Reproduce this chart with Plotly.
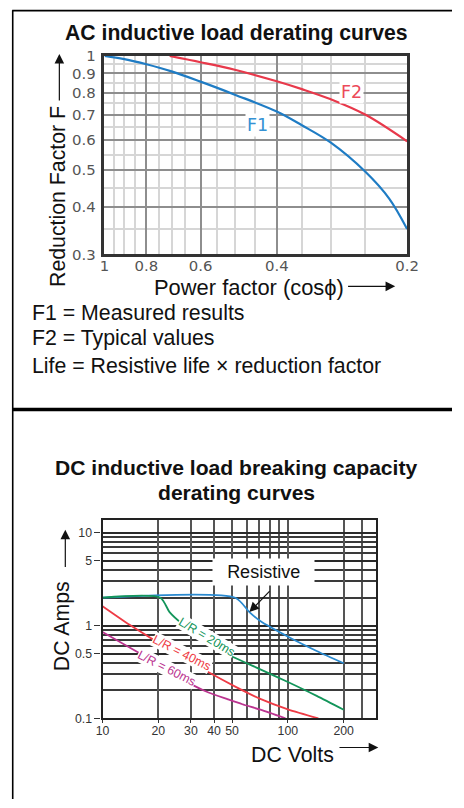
import math
import plotly.graph_objects as go

# Figure size; the page body adds the browser's default 8px margin around it.
W, H = 464, 808
BODY = 8
# Layout positions below are given in screen pixels of the captured page,
# which spans the figure plus its margins.
SX = (W + 2 * BODY) / W
SY = (H + 2 * BODY) / H

# ---- AC inductive load: power factor vs reduction factor ----
f1_pf = [1.0, 0.9, 0.8, 0.7, 0.6, 0.5, 0.4, 0.35, 0.3, 0.25, 0.22, 0.2]
f1_val = [1.0, 0.981, 0.951, 0.911, 0.856, 0.791, 0.714, 0.657, 0.591, 0.496, 0.421, 0.35]
f2_pf = [0.707, 0.6, 0.5, 0.4, 0.35, 0.3, 0.25, 0.2]
f2_val = [1.0, 0.963, 0.92, 0.858, 0.818, 0.769, 0.701, 0.596]

ac_y_ticks = [0.3, 0.4, 0.5, 0.6, 0.7, 0.8, 0.9, 1.0]
ac_y_labels = ["0.3", "0.4", "0.5", "0.6", "0.7", "0.8", "0.9", "1"]
ac_y_minor = [0.35, 0.45, 0.55, 0.65, 0.75, 0.85, 0.95]
ac_x_ticks = [1.0, 0.8, 0.6, 0.4, 0.2]
ac_x_labels = ["1", "0.8", "0.6", "0.4", "0.2"]
ac_x_minor = [0.95, 0.9, 0.85, 0.75, 0.7, 0.65, 0.55, 0.5, 0.45, 0.35, 0.3, 0.25]

# ---- DC inductive load breaking capacity (volts vs amps) ----
res_v = [10, 52, 62, 71, 102, 143, 200]
res_a = [2, 2, 1.40, 1.12, 0.745, 0.533, 0.393]
lr20_v = [10, 20.5, 23, 27, 35, 47, 71, 100, 143, 200]
lr20_a = [2, 2, 1.40, 1.04, 0.72, 0.495, 0.338, 0.247, 0.175, 0.124]
lr40_v = [10, 14, 18.5, 27, 38, 52, 71, 100, 146]
lr40_a = [1.62, 1.02, 0.72, 0.456, 0.308, 0.22, 0.162, 0.125, 0.1]
lr60_v = [10, 15.6, 22, 31.3, 37.3, 47.2, 56.8, 71.1, 97]
lr60_a = [0.853, 0.513, 0.341, 0.224, 0.19, 0.161, 0.142, 0.124, 0.1]

dc_y_ticks = [0.1, 0.5, 1, 5, 10]
dc_y_labels = ["0.1", "0.5", "1", "5", "10"]
dc_y_minor = [0.2, 0.3, 0.4, 0.6, 0.7, 0.8, 0.9, 2, 3, 4, 6, 7, 8, 9]
dc_x_ticks = [10, 20, 30, 40, 50, 100, 200]
dc_x_labels = ["10", "20", "30", "40", "50", "100", "200"]
dc_x_minor = [60, 70, 80, 90, 250]

BLUE = "#1f7cc4"
RED = "#e8394b"
DC_BLUE = "#2a8ad0"
DC_GREEN = "#13955a"
DC_RED = "#ee3b45"
DC_MAGENTA = "#bb3590"

SANS = "Liberation Sans"
LIGHT = "DejaVu Sans"


def px(x):
    """Screen x (pixels) -> paper fraction."""
    return (x * SX - BODY) / W


def py(y):
    """Screen y (pixels from top) -> paper fraction."""
    return 1 - (y * SY - BODY) / H


def fs(size):
    """Screen font size -> figure font size."""
    return round(size * (SX + SY) / 2, 1)


fig = go.Figure()

# AC curves
fig.add_trace(go.Scatter(x=f1_pf, y=f1_val, mode="lines", xaxis="x", yaxis="y",
                         line=dict(color=BLUE, width=2.2, shape="spline", smoothing=1.0)))
fig.add_trace(go.Scatter(x=f2_pf, y=f2_val, mode="lines", xaxis="x", yaxis="y",
                         line=dict(color=RED, width=2.2, shape="spline", smoothing=1.0)))

# DC curves
for xs, ys, col in [(res_v, res_a, DC_BLUE), (lr20_v, lr20_a, DC_GREEN),
                    (lr40_v, lr40_a, DC_RED), (lr60_v, lr60_a, DC_MAGENTA)]:
    fig.add_trace(go.Scatter(x=xs, y=ys, mode="lines", xaxis="x2", yaxis="y2",
                             line=dict(color=col, width=1.8, shape="spline", smoothing=0.7)))

ac_axis_common = dict(type="log", showline=True, mirror=True, linecolor="#333333",
                      linewidth=2.6, zeroline=False, showgrid=True,
                      gridcolor="#8e8e8e", gridwidth=1.7,
                      tickfont=dict(family=LIGHT, size=fs(14.5), color="#555555"))

dc_axis_common = dict(type="log", showline=True, mirror=True, linecolor="#222222",
                      linewidth=2.1, zeroline=False, showgrid=True,
                      tickfont=dict(family=SANS, size=fs(12), color="#333333"))

fig.update_layout(
    width=W, height=H, margin=dict(l=0, r=0, t=0, b=0),
    paper_bgcolor="white", plot_bgcolor="white", showlegend=False,
    xaxis=dict(domain=[px(106), px(411)], anchor="y",
               range=[0, math.log10(0.2)],
               tickmode="array", tickvals=ac_x_ticks, ticktext=ac_x_labels,
               ticks="", ticklabelstandoff=-4,
               minor=dict(tickmode="array", tickvals=ac_x_minor, showgrid=True,
                          gridcolor="#d6d6d6", gridwidth=1.5, ticks=""),
               **ac_axis_common),
    yaxis=dict(domain=[py(254), py(55)], anchor="x",
               range=[math.log10(0.3), 0],
               tickmode="array", tickvals=ac_y_ticks, ticktext=ac_y_labels,
               ticks="outside", ticklen=3, tickcolor="rgba(0,0,0,0)",
               minor=dict(tickmode="array", tickvals=ac_y_minor, showgrid=True,
                          gridcolor="#d6d6d6", gridwidth=1.5, ticks=""),
               **ac_axis_common),
    xaxis2=dict(domain=[px(104), px(380)], anchor="y2",
                range=[1, math.log10(300)],
                tickmode="array", tickvals=dc_x_ticks, ticktext=dc_x_labels,
                ticks="outside", ticklen=3, tickcolor="#333333", tickwidth=1,
                ticklabelstandoff=-3,
                gridcolor="#555555", gridwidth=1.9,
                minor=dict(tickmode="array", tickvals=dc_x_minor, showgrid=True,
                           gridcolor="#555555", gridwidth=1.9, ticks=""),
                **dc_axis_common),
    yaxis2=dict(domain=[py(719.3), py(520.7)], anchor="x2",
                range=[-1, 1.135],
                tickmode="array", tickvals=dc_y_ticks, ticktext=dc_y_labels,
                ticks="outside", ticklen=6, tickcolor="#333333", tickwidth=1,
                gridcolor="#2a2a2a", gridwidth=1.5,
                minor=dict(tickmode="array", tickvals=dc_y_minor, showgrid=True,
                           gridcolor="#3a3a3a", gridwidth=1.5, ticks=""),
                **dc_axis_common),
)

# Frame around the panels
fig.add_shape(type="line", xref="paper", yref="paper", x0=px(13.5), x1=px(13.5),
              y0=py(9), y1=0, line=dict(color="black", width=1.6))
fig.add_shape(type="line", xref="paper", yref="paper", x0=px(13), x1=1,
              y0=py(9.5), y1=py(9.5), line=dict(color="black", width=1.6))
fig.add_shape(type="line", xref="paper", yref="paper", x0=px(13), x1=1,
              y0=py(409.5), y1=py(409.5), line=dict(color="black", width=3.6))


def text(t, x, y, size, color="#111111", family=SANS, xanchor="center", angle=0, **kw):
    fig.add_annotation(text=t, xref="paper", yref="paper", x=px(x), y=py(y),
                       xanchor=xanchor, yanchor="middle", showarrow=False,
                       textangle=angle, font=dict(family=family, size=fs(size), color=color),
                       **kw)


def arrow(x, y, ax, ay):
    fig.add_annotation(text="", xref="paper", yref="paper", x=px(x), y=py(y),
                       ax=ax * SX, ay=ay * SY, showarrow=True, arrowhead=2, arrowsize=1.6,
                       arrowwidth=1.2, arrowcolor="#111111")


# AC panel texts
text("<b>AC inductive load derating curves</b>", 239, 32, 20.6)
text("Reduction Factor F", 58.5, 196, 20.7, angle=-90)
arrow(60.5, 53, 0, 47)
text("Power factor (cosϕ)", 252, 287, 21.3)
arrow(399, 286, -47, 0)
text("F1", 260, 124, 17, color="#3592d4", family=LIGHT, bgcolor="white", borderpad=1)
text("F2", 355, 91, 17, color="#ec4a5a", family=LIGHT, bgcolor="white", borderpad=1)

text("F1 = Measured results", 31, 313, 20.7, xanchor="left")
text("F2 = Typical values", 31, 338, 20.7, xanchor="left")
text("Life = Resistive life × reduction factor", 31, 366, 20.7, xanchor="left")

# DC panel texts
text("<b>DC inductive load breaking capacity</b>", 239, 468, 20.5)
text("<b>derating curves</b>", 239, 493, 20.5)
text("DC Amps", 64, 627, 20.7, angle=-90)
arrow(66.5, 530, 0, 38)
text("DC Volts", 295, 756, 20.7)
arrow(382, 748.5, -39, 0)

text("L/R = 20ms", 209, 638, 12, color=DC_GREEN, angle=31, bgcolor="white", borderpad=0)
text("L/R = 40ms", 184, 654, 12, color=DC_RED, angle=27, bgcolor="white", borderpad=0)
text("L/R = 60ms", 168, 669, 12, color=DC_MAGENTA, angle=27, bgcolor="white", borderpad=0)

fig.add_annotation(text="Resistive", xref="paper", yref="paper", x=px(318), y=py(587),
                   showarrow=False, bgcolor="white", width=96 * SX, height=24 * SY,
                   font=dict(family=SANS, size=fs(17.5), color="#111111"))
fig.add_annotation(text="", xref="x2", yref="y2", x=math.log10(62), y=math.log10(1.40),
                   ax=21 * SX, ay=-22 * SY, showarrow=True, arrowhead=2, arrowsize=1.6,
                   arrowwidth=1.2, arrowcolor="#111111")

fig.write_html("out.html")
